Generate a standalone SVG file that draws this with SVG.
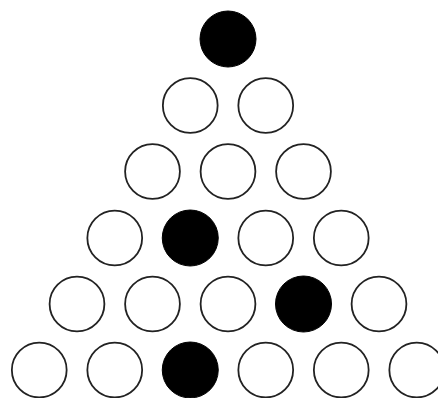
<svg xmlns="http://www.w3.org/2000/svg" width="438" height="398" viewBox="0 0 438 398">
<style>
.o{fill:#fff;stroke:#222;stroke-width:1.8}
.f{fill:#000;stroke:#000;stroke-width:1}
</style>
<rect width="438" height="398" fill="#fff"/>
<g id="r1"><circle id="n1" class="f" cx="228" cy="39" r="28"/></g>
<g id="r2">
<g id="n2"><circle class="o" cx="190.25" cy="105.5" r="27.4"/></g>
<g id="n3"><circle class="o" cx="265.75" cy="105.5" r="27.4"/></g>
</g>
<g id="r3">
<g id="n4"><circle class="o" cx="152.5" cy="171.5" r="27.4"/></g>
<g id="n5"><circle class="o" cx="228" cy="171.5" r="27.4"/></g>
<g id="n6"><circle class="o" cx="303.5" cy="171.5" r="27.4"/></g>
</g>
<g id="r4">
<g id="n7"><circle class="o" cx="114.75" cy="238" r="27.4"/></g>
<g id="n8"><circle class="f" cx="190.25" cy="238" r="28"/></g>
<g id="n9"><circle class="o" cx="265.75" cy="238" r="27.4"/></g>
<g id="n10"><circle class="o" cx="341.25" cy="238" r="27.4"/></g>
</g>
<g id="r5">
<g id="n11"><circle class="o" cx="77" cy="304" r="27.4"/></g>
<g id="n12"><circle class="o" cx="152.5" cy="304" r="27.4"/></g>
<g id="n13"><circle class="o" cx="228" cy="304" r="27.4"/></g>
<g id="n14"><circle class="f" cx="303.5" cy="304" r="28"/></g>
<g id="n15"><circle class="o" cx="379" cy="304" r="27.4"/></g>
</g>
<g id="r6">
<g id="n16"><circle class="o" cx="39.25" cy="370" r="27.4"/></g>
<g id="n17"><circle class="o" cx="114.75" cy="370" r="27.4"/></g>
<g id="n18"><circle class="f" cx="190.25" cy="370" r="28"/></g>
<g id="n19"><circle class="o" cx="265.75" cy="370" r="27.4"/></g>
<g id="n20"><circle class="o" cx="341.25" cy="370" r="27.4"/></g>
<g id="n21"><circle class="o" cx="416.75" cy="370" r="27.4"/></g>
</g>
<g id="connectors"/>
</svg>
